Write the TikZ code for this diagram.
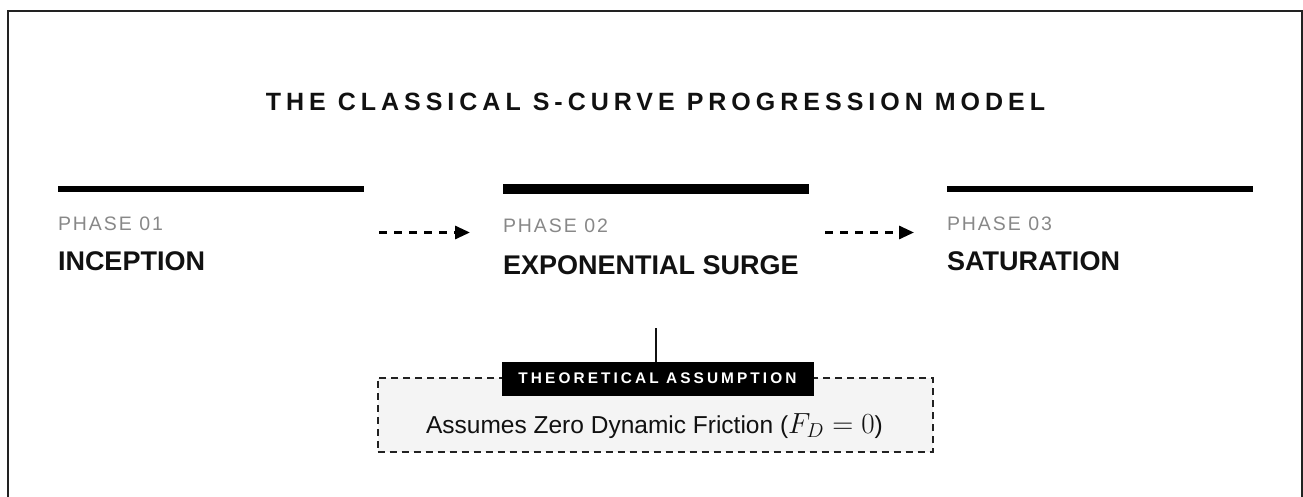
\documentclass[tikz,border=0pt]{standalone}
\usepackage[no-math]{fontspec}
\setmainfont{Liberation Sans}
\newfontfamily\trackwide{Liberation Sans}[LetterSpace=20]
\newfontfamily\tracknarrow{Liberation Sans}[LetterSpace=10]
\usetikzlibrary{arrows.meta}
\definecolor{ink}{HTML}{111111}
\definecolor{framec}{HTML}{222222}
\definecolor{phasegray}{HTML}{888888}
\definecolor{boxfill}{HTML}{F4F4F4}
\begin{document}
\begin{tikzpicture}[x=1pt,y=-1pt,
  every node/.style={inner sep=0pt, outer sep=0pt},
  barnode/.style={fill=black, minimum width=306pt, minimum height=#1, anchor=north west},
  phaselabel/.style={anchor=base west, text=phasegray, font=\tracknarrow\fontsize{19.5}{22}\selectfont},
  phasename/.style={anchor=base west, text=ink, font=\bfseries\fontsize{27}{30}\selectfont},
  flow/.style={line width=3pt, dash pattern=on 8pt off 7pt, -{Triangle[length=15pt,width=13pt]}, black},
  tagbox/.style={fill=black, text=white, minimum width=312pt, minimum height=34pt, font=\trackwide\bfseries\fontsize{15.4}{18}\selectfont},
  notebox/.style={draw=framec, line width=2pt, dash pattern=on 7pt off 5pt, fill=boxfill, minimum width=555pt, minimum height=74.5pt, anchor=north west}]
\useasboundingbox (0,0) rectangle (1303,497);
% outer frame (bottom edge lies outside the picture)
\draw[line width=2pt, color=framec] (8,497) -- (8,11.5) -- (1301.5,11.5) -- (1301.5,497);
% title
\node[anchor=base, text=ink, font=\trackwide\bfseries\fontsize{25}{28}\selectfont] (title) at (655.5,110.5) {THE CLASSICAL S-CURVE PROGRESSION MODEL};
% bars
\node[barnode=6pt] (bar1) at (58,186) {};
\node[barnode=10pt] (bar2) at (503,184) {};
\node[barnode=6pt] (bar3) at (947,186) {};
% phase texts
\node[phaselabel] (p1) at (58,230.5) {PHASE 01};
\node[phasename] (n1) at (58,270.5) {INCEPTION};
\node[phaselabel] (p2) at (503,232) {PHASE 02};
\node[phasename] (n2) at (503,274) {EXPONENTIAL SURGE};
\node[phaselabel] (p3) at (947,230) {PHASE 03};
\node[phasename] (n3) at (947,270) {SATURATION};
% arrows
\coordinate (a1s) at (379,232.5);
\coordinate (a1e) at (470,232.5);
\coordinate (a2s) at (825,232.5);
\coordinate (a2e) at (914,232.5);
\draw[flow] (a1s) -- (a1e);
\draw[flow] (a2s) -- (a2e);
% note box
\node[notebox] (box) at (377.5,377.5) {};
\node[anchor=base, text=ink, font=\fontsize{24.5}{28}\selectfont] (body) at (654.5,433)
  {Assumes Zero Dynamic Friction (\scalebox{1.17}{$F_D = 0$})};
\node[tagbox] (tag) at (657.5,378.5) {THEORETICAL ASSUMPTION};
\coordinate (ctop) at (656,328);
\draw[line width=1.5pt, ink] (tag.north -| ctop) -- (ctop);
\end{tikzpicture}
\end{document}
